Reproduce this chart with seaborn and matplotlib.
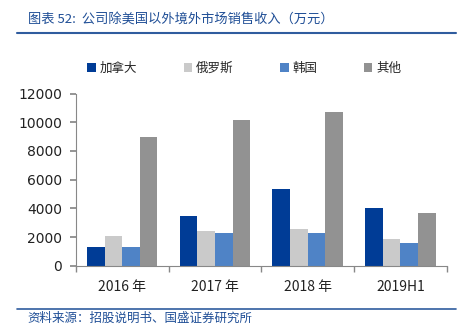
import numpy as np
import pandas as pd
import matplotlib
matplotlib.use("Agg")
import matplotlib.pyplot as plt
import seaborn as sns
from matplotlib.patches import Patch

categories = ["2016 年", "2017 年", "2018 年", "2019H1"]
series_names = ["加拿大", "俄罗斯", "韩国", "其他"]
canada = [1300, 3500, 5350, 4000]
russia = [2100, 2400, 2550, 1850]
korea = [1300, 2300, 2300, 1550]
other = [9000, 10150, 10700, 3650]
colors = ["#003C96", "#CACACA", "#4F83C6", "#929292"]
yticks = [0, 2000, 4000, 6000, 8000, 10000, 12000]

sns.set_theme(style="white")
plt.rcParams['font.family'] = ['Noto Sans CJK SC', 'DejaVu Sans']

rows = []
for name, vals in zip(series_names, [canada, russia, korea, other]):
    for c, v in zip(categories, vals):
        rows.append({"cat": c, "series": name, "value": v})
df = pd.DataFrame(rows)

fig = plt.figure(figsize=(4.65, 3.33), dpi=100)
ax = fig.add_axes([0.163, 0.202, 0.798, 0.517])
sns.barplot(data=df, x="cat", y="value", hue="series", order=categories,
            hue_order=series_names, palette=colors, width=0.76, gap=0,
            saturation=1, linewidth=0, ax=ax, legend=False)

ax.set_ylim(0, 12000)
ax.set_xlim(-0.5, 3.5)
ax.set_yticks(yticks)
ax.set_yticklabels([str(t) for t in yticks], family=['DejaVu Sans'], fontsize=10, color="#222222")
ax.set_xticks(range(len(categories)))
ax.set_xticklabels(categories, fontsize=10, color="#222222")
ax.set_xticks([-0.5, 0.5, 1.5, 2.5, 3.5], minor=True)
ax.tick_params(axis='x', which='major', length=0, pad=10)
ax.tick_params(axis='x', which='minor', length=4, color="#888888", direction='out', bottom=True)
ax.tick_params(axis='y', length=4, color="#888888", direction='out', left=True, pad=6)
ax.set_xlabel("")
ax.set_ylabel("")
for s in ["top", "right"]:
    ax.spines[s].set_visible(False)
for s in ["left", "bottom"]:
    ax.spines[s].set_color("#888888")
    ax.spines[s].set_linewidth(0.8)

handles = [Patch(facecolor=c, edgecolor='none') for c in colors]
fig.legend(handles, series_names, loc='center', bbox_to_anchor=(0.525, 0.795), ncol=4,
           frameon=False, fontsize=9, handlelength=0.7, handleheight=0.7,
           handletextpad=0.3, columnspacing=3.7)

fig.text(0.06, 0.94, "图表 52:  公司除美国以外境外市场销售收入（万元）", fontsize=9.5,
         color="#1F4E96", style='italic', va='center', ha='left')
fig.add_artist(plt.Line2D([0.037, 0.98], [0.9, 0.9], color="#2F5C9E", lw=1.5))
fig.add_artist(plt.Line2D([0.037, 0.98], [0.073, 0.073], color="#2F5C9E", lw=1.2))
fig.text(0.06, 0.043, "资料来源：招股说明书、国盛证券研究所", fontsize=9,
         color="#1F4E96", style='italic', va='center', ha='left')

fig.savefig("out.png", dpi=100)
